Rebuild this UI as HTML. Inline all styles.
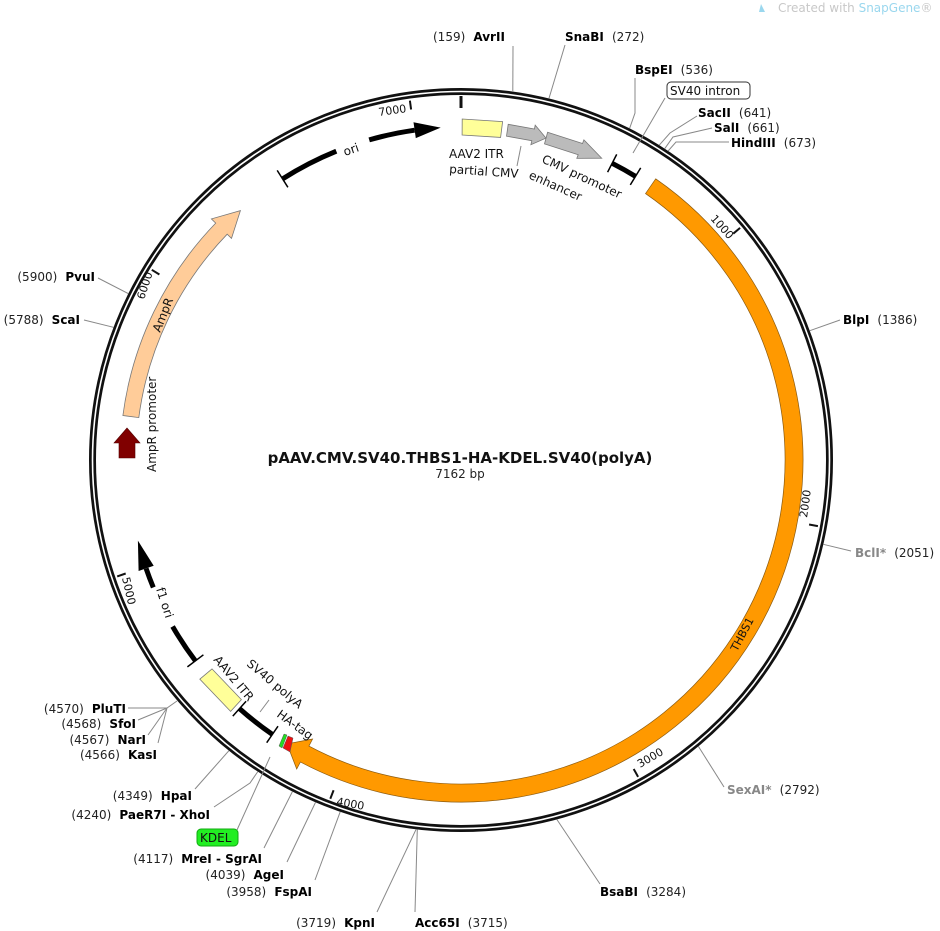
<!DOCTYPE html>
<html><head><meta charset="utf-8"><style>
html,body{margin:0;padding:0;background:#fff;}
svg{display:block;font-family:"DejaVu Sans","Liberation Sans",sans-serif;}
.b{font-weight:bold;font-size:12px;fill:#000}
.n{font-size:12px;fill:#222}
.g{font-weight:bold;font-size:12px;fill:#888}
.f{font-size:12px;fill:#111}
.t{font-size:11px;fill:#111}
line,polyline{stroke:#888;stroke-width:1;fill:none}
</style></head><body>
<svg width="940" height="931" viewBox="0 0 940 931">
<text x="778" y="12" style="font-size:12px;fill:#c8c8c8">Created with <tspan fill="#9ad7ee">SnapGene</tspan>®</text>
<path d="M761,4 l4,8 l-6,0 z" fill="#9ad7ee"/>

<circle cx="461" cy="460" r="368.5" fill="none" stroke="#111" stroke-width="7"/>
<circle cx="461" cy="460" r="368.5" fill="none" stroke="#fff" stroke-width="1.6"/>

<line x1="461" y1="96" x2="461" y2="108" style="stroke:#111;stroke-width:3"/>
<line x1="740.1" y1="227.9" x2="733.2" y2="233.7" style="stroke:#111;stroke-width:2"/>
<line x1="817.9" y1="526.1" x2="809.1" y2="524.5" style="stroke:#111;stroke-width:2"/>
<line x1="638.1" y1="776.9" x2="633.7" y2="769.0" style="stroke:#111;stroke-width:2"/>
<line x1="330.3" y1="798.7" x2="333.6" y2="790.3" style="stroke:#111;stroke-width:2"/>
<line x1="117.2" y1="576.4" x2="125.7" y2="573.5" style="stroke:#111;stroke-width:2"/>
<line x1="151.8" y1="269.8" x2="159.4" y2="274.5" style="stroke:#111;stroke-width:2"/>
<line x1="409.9" y1="100.6" x2="411.1" y2="109.5" style="stroke:#111;stroke-width:2"/>
<text class="t" transform="translate(710,219) rotate(48)">1000</text>
<text class="t" transform="translate(807,518) rotate(-82)">2000</text>
<text class="t" transform="translate(640,768) rotate(-30)">3000</text>
<text class="t" transform="translate(336,805) rotate(10)">4000</text>
<text class="t" transform="translate(122,578) rotate(77)">5000</text>
<text class="t" transform="translate(144,300) rotate(-72)">6000</text>
<text class="t" transform="translate(379,116) rotate(-8)">7000</text>

<path d="M655.7,178.8 A342,342 0 0 1 757.2,631.0 A342,342 0 0 1 300.4,762.0 L296.7,769.0 L287.0,743.9 L312.6,739.0 L308.9,746.1 A324,324 0 0 0 741.6,622.0 A324,324 0 0 0 645.5,193.6 Z" fill="#ff9900" stroke="#8a5a10" stroke-width="0.7"/>
<text class="t" transform="translate(737,652) rotate(-62)">THBS1</text>

<path d="M122.9,415.5 A341,341 0 0 1 215.7,223.1 L211.4,218.9 L240.4,210.6 L231.5,238.4 L227.2,234.2 A325,325 0 0 0 138.8,417.6 Z" fill="#ffcc99" stroke="#777" stroke-width="0.8"/>
<text class="f" transform="translate(160,333) rotate(-68)">AmpR</text>
<path d="M119,458 L119,443 L114,443 L127,428 L140,443 L135,443 L135,458 Z" fill="#800000" stroke="#500" stroke-width="0.6"/>
<text class="f" transform="translate(156,472) rotate(-90)">AmpR promoter</text>

<path d="M282.6,178.9 A333,333 0 0 1 336.3,151.2" fill="none" stroke="#000" stroke-width="5"/>
<path d="M369.2,139.9 A333,333 0 0 1 414.6,130.2" fill="none" stroke="#000" stroke-width="5"/>
<path d="M413.5,122.3 L440.7,127.6 L415.8,138.1 Z" fill="#000"/>
<line x1="287.9" y1="187.3" x2="277.2" y2="170.4" style="stroke:#000;stroke-width:1.5"/>
<text class="f" transform="translate(345,156) rotate(-19)">ori</text>

<path d="M195.4,660.9 A333,333 0 0 1 172.6,626.5" fill="none" stroke="#000" stroke-width="5"/>
<path d="M153.3,587.4 A333,333 0 0 1 146.1,568.4" fill="none" stroke="#000" stroke-width="5"/>
<path d="M138.6,571.0 L137.9,540.6 L153.7,565.8 Z" fill="#000"/>
<line x1="203.4" y1="654.8" x2="187.4" y2="666.9" style="stroke:#000;stroke-width:1.5"/>
<text class="f" transform="translate(156,589) rotate(72)">f1 ori</text>

<path d="M462.2,119.0 L502.6,121.6 L500.6,137.4 L462.1,135.0 Z" fill="#ffff99" stroke="#777" stroke-width="0.8"/>
<text class="f" x="449" y="158">AAV2 ITR</text>
<text class="f" transform="translate(449,173) rotate(4)">partial CMV</text>
<text class="f" transform="translate(528,178) rotate(24)">enhancer</text>
<line x1="521" y1="146" x2="517" y2="166"/>
<path d="M508.2,124.3 L534.4,129.0 L535.2,125.1 L546.0,138.1 L530.9,144.7 L531.8,140.7 L506.5,136.2 Z" fill="#bbb" stroke="#777" stroke-width="0.8"/>
<path d="M547.6,132.3 L582.5,143.5 L583.9,139.8 L601.7,158.2 L576.8,158.4 L578.2,154.7 L544.5,143.9 Z" fill="#bbb" stroke="#777" stroke-width="0.8"/>
<text class="f" transform="translate(541,162) rotate(25)">CMV promoter</text>

<path d="M612.2,163.3 A333,333 0 0 1 635.5,176.4" fill="none" stroke="#000" stroke-width="5"/>
<line x1="607.6" y1="172.2" x2="616.7" y2="154.4" style="stroke:#000;stroke-width:1.5"/>
<line x1="630.3" y1="184.9" x2="640.7" y2="167.9" style="stroke:#000;stroke-width:1.5"/>

<path d="M272.4,734.4 A333,333 0 0 1 239.5,708.6" fill="none" stroke="#000" stroke-width="5"/>
<line x1="278.0" y1="726.2" x2="266.7" y2="742.7" style="stroke:#000;stroke-width:1.5"/>
<line x1="246.1" y1="701.2" x2="232.8" y2="716.1" style="stroke:#000;stroke-width:1.5"/>
<path d="M230.6,711.4 L199.8,679.2 L212.0,668.9 L241.4,699.6 Z" fill="#ffff99" stroke="#777" stroke-width="0.8"/>
<text class="f" transform="translate(213,660) rotate(50)">AAV2 ITR</text>
<text class="f" transform="translate(246,665) rotate(40)">SV40 polyA</text>
<text class="f" transform="translate(276,716) rotate(36)">HA-tag</text>
<line x1="269" y1="700" x2="260" y2="712"/>
<path d="M279,746 L284,734 L287,735 L282,748 Z" fill="#22dd22" stroke="#555" stroke-width="0.5"/>
<path d="M283,748 L288,736 L293,738 L290,752 Z" fill="#ee1111" stroke="#555" stroke-width="0.5"/>

<text x="460" y="463" text-anchor="middle" style="font-weight:bold;font-size:15px;fill:#111">pAAV.CMV.SV40.THBS1-HA-KDEL.SV40(polyA)</text>
<text x="460" y="478" text-anchor="middle" style="font-size:12px;fill:#222">7162 bp</text>

<line x1="512.8" y1="92" x2="513" y2="46"/>
<line x1="548.9" y1="98.6" x2="565" y2="45"/>
<polyline points="629.6,128.4 635,113 635,78"/>
<line x1="633" y1="153" x2="665" y2="98"/>
<polyline points="659.2,145.2 670,133 697,116"/>
<polyline points="664.7,148.7 673,137 712,128"/>
<polyline points="668.1,151.0 676,142 729,142"/>
<line x1="809.8" y1="330.7" x2="840" y2="320"/>
<line x1="823.3" y1="544.3" x2="851" y2="551"/>
<line x1="698.4" y1="746.4" x2="724" y2="787"/>
<line x1="556.9" y1="819.5" x2="600" y2="884"/>
<line x1="417.3" y1="829.4" x2="415" y2="912"/>
<line x1="416.1" y1="829.3" x2="377" y2="912"/>
<line x1="340.2" y1="811.8" x2="315" y2="880"/>
<line x1="315.5" y1="802.4" x2="287" y2="862"/>
<line x1="292.4" y1="791.6" x2="264" y2="848"/>
<line x1="270" y1="757" x2="237" y2="830"/>
<polyline points="257.8,771.6 250,783 214,807"/>
<line x1="228.9" y1="750.7" x2="195" y2="789"/>
<polyline points="177,701 167,708 128,708"/>
<polyline points="167,708 138,720"/>
<polyline points="167,708 148,735"/>
<polyline points="167,708 158,743"/>
<line x1="128.2" y1="293.6" x2="98" y2="278"/>
<line x1="113.5" y1="327.3" x2="84" y2="320"/>

<text x="433" y="41"><tspan class="n">(159)</tspan> <tspan class="b" dx="3">AvrII</tspan></text>
<text x="565" y="41"><tspan class="b">SnaBI</tspan> <tspan class="n" dx="3">(272)</tspan></text>
<text x="635" y="74"><tspan class="b">BspEI</tspan> <tspan class="n" dx="3">(536)</tspan></text>
<rect x="667" y="82" width="83" height="17" rx="4" fill="#fff" stroke="#333" stroke-width="1"/>
<text class="f" x="670" y="95">SV40 intron</text>
<text x="698" y="117"><tspan class="b">SacII</tspan> <tspan class="n" dx="3">(641)</tspan></text>
<text x="714" y="132"><tspan class="b">SalI</tspan> <tspan class="n" dx="3">(661)</tspan></text>
<text x="731" y="147"><tspan class="b">HindIII</tspan> <tspan class="n" dx="3">(673)</tspan></text>
<text x="843" y="324"><tspan class="b">BlpI</tspan> <tspan class="n" dx="3">(1386)</tspan></text>
<text x="855" y="557"><tspan class="g">BclI*</tspan> <tspan class="n" dx="3">(2051)</tspan></text>
<text x="727" y="794"><tspan class="g">SexAI*</tspan> <tspan class="n" dx="3">(2792)</tspan></text>
<text x="600" y="896"><tspan class="b">BsaBI</tspan> <tspan class="n" dx="3">(3284)</tspan></text>
<text x="415" y="927"><tspan class="b">Acc65I</tspan> <tspan class="n" dx="3">(3715)</tspan></text>
<text x="375" y="927" text-anchor="end"><tspan class="n">(3719)</tspan> <tspan class="b" dx="3">KpnI</tspan></text>
<text x="312" y="896" text-anchor="end"><tspan class="n">(3958)</tspan> <tspan class="b" dx="3">FspAI</tspan></text>
<text x="284" y="879" text-anchor="end"><tspan class="n">(4039)</tspan> <tspan class="b" dx="3">AgeI</tspan></text>
<text x="262" y="863" text-anchor="end"><tspan class="n">(4117)</tspan> <tspan class="b" dx="3">MreI - SgrAI</tspan></text>
<rect x="197" y="829" width="41" height="17" rx="4" fill="#22ee22" stroke="#1a1" stroke-width="1"/>
<text class="f" x="200" y="842">KDEL</text>
<text x="210" y="819" text-anchor="end"><tspan class="n">(4240)</tspan> <tspan class="b" dx="3">PaeR7I - XhoI</tspan></text>
<text x="192" y="800" text-anchor="end"><tspan class="n">(4349)</tspan> <tspan class="b" dx="3">HpaI</tspan></text>
<text x="126" y="713" text-anchor="end"><tspan class="n">(4570)</tspan> <tspan class="b" dx="3">PluTI</tspan></text>
<text x="136" y="728" text-anchor="end"><tspan class="n">(4568)</tspan> <tspan class="b" dx="3">SfoI</tspan></text>
<text x="146" y="744" text-anchor="end"><tspan class="n">(4567)</tspan> <tspan class="b" dx="3">NarI</tspan></text>
<text x="157" y="759" text-anchor="end"><tspan class="n">(4566)</tspan> <tspan class="b" dx="3">KasI</tspan></text>
<text x="95" y="281" text-anchor="end"><tspan class="n">(5900)</tspan> <tspan class="b" dx="3">PvuI</tspan></text>
<text x="80" y="324" text-anchor="end"><tspan class="n">(5788)</tspan> <tspan class="b" dx="3">ScaI</tspan></text>
</svg>
</body></html>
